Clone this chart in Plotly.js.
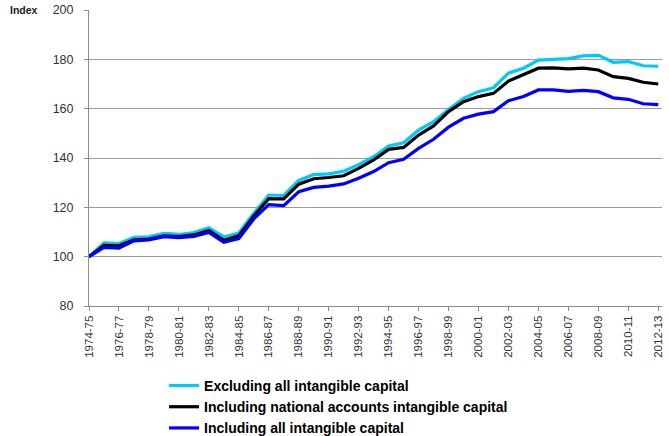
<!DOCTYPE html>
<html>
<head>
<meta charset="utf-8">
<script src="https://cdn.plot.ly/plotly-3.0.1.min.js"></script>
<style>html,body{margin:0;padding:0;background:#fff;}#chart{width:669px;height:436px;}</style>
</head>
<body>
<div id="chart"></div>
<script>
const categories = ["1974-75","1975-76","1976-77","1977-78","1978-79","1979-80","1980-81","1981-82","1982-83","1983-84","1984-85","1985-86","1986-87","1987-88","1988-89","1989-90","1990-91","1991-92","1992-93","1993-94","1994-95","1995-96","1996-97","1997-98","1998-99","1999-00","2000-01","2001-02","2002-03","2003-04","2004-05","2005-06","2006-07","2007-08","2008-09","2009-10","2010-11","2011-12","2012-13"];
const excludingAll = [100,105.6,105.3,107.8,108.0,109.4,109.0,109.8,111.7,108.0,109.6,117.6,125.0,124.8,130.9,133.3,133.6,134.6,137.3,140.5,144.9,146.2,151.3,154.7,159.7,164.2,166.9,168.5,174.4,176.4,179.7,180.1,180.3,181.4,181.6,178.8,179.1,177.4,177.2];
const includingNational = [100,104.6,104.4,106.8,107.1,108.4,108.1,108.8,110.6,106.6,108.5,116.5,123.5,123.4,129.4,131.6,132.1,132.8,135.8,139.2,143.5,144.3,149.3,153.0,158.8,162.8,164.9,166.2,171.2,173.7,176.4,176.5,176.1,176.4,175.7,173.0,172.3,170.7,170.0];
const includingAll = [100,103.8,103.5,106.4,106.8,108.1,107.7,108.2,109.8,105.8,107.3,115.3,121.1,120.7,126.3,128.1,128.6,129.5,131.8,134.5,138.1,139.5,143.9,147.6,152.5,156.1,157.8,158.8,163.2,164.9,167.6,167.6,167.0,167.4,166.9,164.4,163.8,162.0,161.6];
const seriesNames = ["Excluding all intangible capital","Including national accounts intangible capital","Including all intangible capital"];
const seriesColors = ["#00C8F8","#000000","#0000FF"];
const tickLabels = categories.filter((c,i)=>i%2===0);
const yTicks = [80,100,120,140,160,180,200];

const allSeries = [excludingAll, includingNational, includingAll];
const traces = allSeries.map((vals,k)=>({
  type:"scatter", mode:"lines", x:categories, y:vals, name:seriesNames[k],
  legendgroup:"g"+k,
  line:{color:seriesColors[k], width:3.2}
}));

const layout = {
  width:669, height:436,
  margin:{l:89, r:7, t:10, b:130, autoexpand:false},
  paper_bgcolor:"#fff", plot_bgcolor:"#fff",
  font:{family:"Liberation Sans, Arial, sans-serif", color:"#404040", size:11},
  showlegend:true,
  legend:{x:0.131, xanchor:"left", y:-0.216, yanchor:"top", orientation:"v",
    font:{family:"Liberation Sans, Arial, sans-serif", size:14, color:"#000", weight:"bold"},
    tracegroupgap:0, itemwidth:30, bgcolor:"rgba(0,0,0,0)"},
  xaxis:{type:"category", categoryorder:"array", categoryarray:categories,
    range:[0, 38.25], tickmode:"array", tickvals:tickLabels, ticktext:tickLabels,
    tickangle:-90, ticks:"outside", ticklen:4, tickcolor:"#8c8c8c",
    showline:true, linecolor:"#8c8c8c", linewidth:1, showgrid:false, zeroline:false,
    tickfont:{size:11.5, color:"#333"}, fixedrange:true},
  yaxis:{range:[80,200], tickmode:"array", tickvals:yTicks, ticktext:yTicks.map(String),
    ticks:"outside", ticklen:4, tickcolor:"#8c8c8c", ticklabelstandoff:8,
    showline:true, linecolor:"#8c8c8c", linewidth:1,
    showgrid:true, gridcolor:"#9c9c9c", gridwidth:1, zeroline:false,
    tickfont:{size:12.5, color:"#333"}, fixedrange:true},
  annotations:[{text:"<b>Index</b>", xref:"paper", yref:"paper", x:-0.142, y:1.0, xanchor:"left", yanchor:"middle",
    showarrow:false, font:{size:10.5, color:"#222"}}]
};
Plotly.newPlot("chart", traces, layout, {displayModeBar:false, staticPlot:true});
</script>
</body>
</html>
